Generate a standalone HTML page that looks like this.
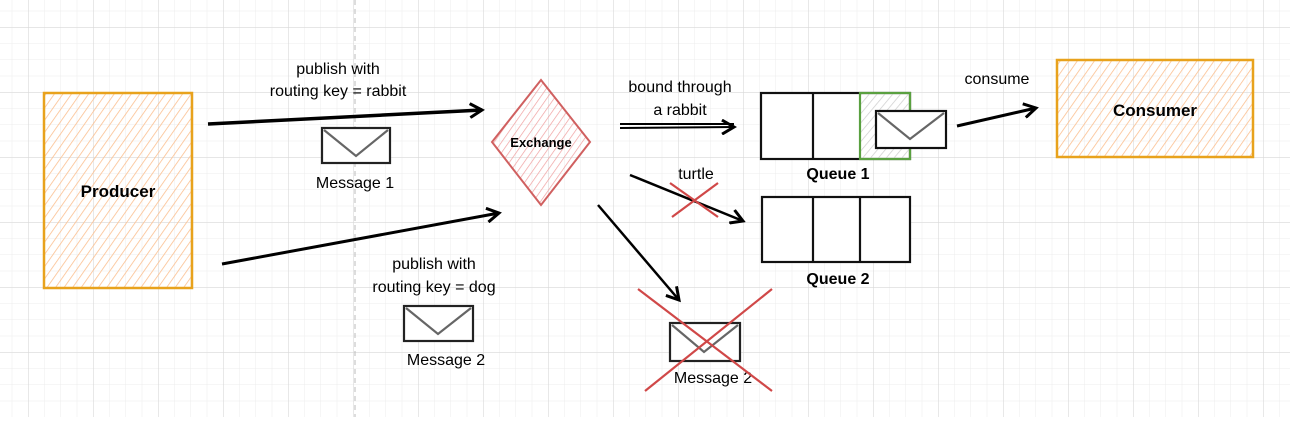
<!DOCTYPE html>
<html><head><meta charset="utf-8"><style>
html,body{margin:0;padding:0;background:#fff;}
svg{display:block;font-family:"Liberation Sans",Arial,sans-serif;}
</style></head><body>
<svg width="1290" height="426" viewBox="0 0 1290 426" xmlns="http://www.w3.org/2000/svg">
<defs>
<pattern id="minor" x="28" y="27" width="16.25" height="16.25" patternUnits="userSpaceOnUse">
<path d="M0 0V16.25M0 0H16.25" stroke="#ececec" stroke-width="1" fill="none"/>
</pattern>
<pattern id="major" x="28" y="27" width="65" height="65" patternUnits="userSpaceOnUse">
<path d="M0 0V65M0 0H65" stroke="#d8d8d8" stroke-width="1.2" fill="none"/>
</pattern>
<pattern id="hatchO" width="7" height="7" patternUnits="userSpaceOnUse" patternTransform="rotate(35)">
<line x1="0" y1="0" x2="0" y2="7" stroke="#fbc090" stroke-width="1.6"/>
</pattern>
<pattern id="hatchR" width="6" height="6" patternUnits="userSpaceOnUse" patternTransform="rotate(35)">
<line x1="0" y1="0" x2="0" y2="6" stroke="#f0a0a0" stroke-width="1.4"/>
</pattern>
<pattern id="hatchG" width="6" height="6" patternUnits="userSpaceOnUse" patternTransform="rotate(40)">
<line x1="0" y1="0" x2="0" y2="6" stroke="#cfcfcf" stroke-width="1.5"/>
</pattern>
<marker id="ah" markerWidth="16" markerHeight="16" refX="13" refY="8" orient="auto" markerUnits="userSpaceOnUse">
<path d="M1 1 L13 8 L1 15" fill="none" stroke="#000" stroke-width="3"/>
</marker>
</defs>
<rect x="0" y="0" width="1290" height="417" fill="url(#minor)"/>
<rect x="0" y="0" width="1290" height="417" fill="url(#major)"/>
<line x1="355" y1="0" x2="355" y2="417" stroke="#bbb" stroke-dasharray="5,4"/>

<rect x="44" y="93" width="148" height="195" fill="url(#hatchO)" stroke="#e8a21c" stroke-width="2.5"/>
<text x="118" y="197" font-size="17" font-weight="bold" text-anchor="middle">Producer</text>

<rect x="1057" y="60" width="196" height="97" fill="url(#hatchO)" stroke="#e8a21c" stroke-width="2.5"/>
<text x="1155" y="116" font-size="17" font-weight="bold" text-anchor="middle">Consumer</text>

<polygon points="541,80 590,142 541,205 492,142" fill="url(#hatchR)" stroke="#d06060" stroke-width="2"/>
<text x="541" y="147" font-size="13" font-weight="bold" text-anchor="middle">Exchange</text>

<line x1="208" y1="124" x2="482" y2="110" stroke="#000" stroke-width="3.5" marker-end="url(#ah)"/>
<line x1="222" y1="264" x2="499" y2="213" stroke="#000" stroke-width="3" marker-end="url(#ah)"/>
<line x1="620" y1="124" x2="734" y2="124" stroke="#000" stroke-width="2"/>
<line x1="620" y1="128" x2="734" y2="127" stroke="#000" stroke-width="2" marker-end="url(#ah)"/>
<line x1="630" y1="175" x2="743" y2="221" stroke="#000" stroke-width="2.5" marker-end="url(#ah)"/>
<line x1="598" y1="205" x2="679" y2="300" stroke="#000" stroke-width="2.5" marker-end="url(#ah)"/>
<line x1="957" y1="126" x2="1036" y2="108" stroke="#000" stroke-width="3" marker-end="url(#ah)"/>

<g font-size="16" text-anchor="middle" fill="#000">
<text x="338" y="74">publish with</text>
<text x="338" y="96">routing key = rabbit</text>
<text x="355" y="188">Message 1</text>
<text x="434" y="269">publish with</text>
<text x="434" y="292">routing key = dog</text>
<text x="446" y="365">Message 2</text>
<text x="680" y="92">bound through</text>
<text x="680" y="115">a rabbit</text>
<text x="696" y="179">turtle</text>
<text x="997" y="84">consume</text>
<text x="713" y="383">Message 2</text>
</g>
<g font-size="16" font-weight="bold" text-anchor="middle">
<text x="838" y="179">Queue 1</text>
<text x="838" y="284">Queue 2</text>
</g>

<g fill="#fff" stroke="#222" stroke-width="2.2">
<rect x="322" y="128" width="68" height="35"/>
<path d="M324 130 L356 156 L388 130" fill="none" stroke="#666"/>
<rect x="404" y="306" width="69" height="35"/>
<path d="M406 308 L438 334 L471 308" fill="none" stroke="#666"/>
<rect x="670" y="323" width="70" height="38"/>
<path d="M672 325 L704 352 L738 325" fill="none" stroke="#666"/>
</g>

<g fill="#fff" stroke="#111" stroke-width="2.2">
<rect x="761" y="93" width="149" height="66"/>
<line x1="813" y1="93" x2="813" y2="159"/>
<rect x="860" y="93" width="50" height="66" fill="url(#hatchG)" stroke="#5aa040"/>
<rect x="876" y="111" width="70" height="37"/>
<path d="M878 113 L910 139 L944 113" fill="none" stroke="#666"/>
<rect x="762" y="197" width="148" height="65"/>
<line x1="813" y1="197" x2="813" y2="262"/>
<line x1="860" y1="197" x2="860" y2="262"/>
</g>

<g stroke="#d04848" stroke-width="2.2">
<line x1="670" y1="183" x2="718" y2="217"/>
<line x1="718" y1="183" x2="672" y2="217"/>
<line x1="638" y1="289" x2="772" y2="391"/>
<line x1="772" y1="289" x2="645" y2="391"/>
</g>
</svg>
</body></html>
